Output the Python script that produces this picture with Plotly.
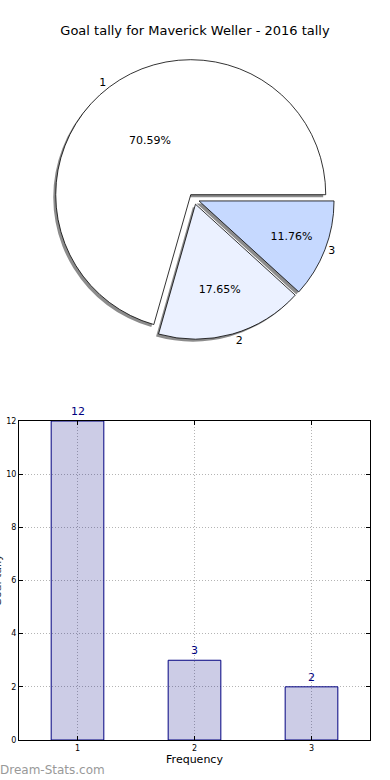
import plotly.graph_objects as go

# ---- data ----
categories = ["1", "2", "3"]
goal_counts = [12, 3, 2]
bar_x = [1, 2, 3]
pie_colors = ["#FFFFFF", "#EBF1FF", "#C6D9FF"]
explode = [0.04, 0.04, 0.04]
y_ticks = [0, 2, 4, 6, 8, 10, 12]
title_text = "Goal tally for Maverick Weller - 2016 tally"

W, H = 390, 780
FONT = "DejaVu Sans"

# pie geometry (pixels -> paper fractions)
cx, cy, r = 194, 199, 135
half = r * (1 + max(explode))
dom_x = [(cx - half) / W, (cx + half) / W]
dom_y = [(H - (cy + half)) / H, (H - (cy - half)) / H]
sdx, sdy = -2.5 / W, -2.5 / H

# first slice starts at 3 o'clock and runs counterclockwise (matplotlib style)
rot = 90 - 360 * goal_counts[0] / sum(goal_counts)

pie_common = dict(labels=categories, values=goal_counts, sort=False,
                  direction="counterclockwise", rotation=rot, pull=explode,
                  hoverinfo="skip", showlegend=False)

fig = go.Figure()

# shadow
fig.add_trace(go.Pie(
    domain=dict(x=[dom_x[0] + sdx, dom_x[1] + sdx], y=[dom_y[0] + sdy, dom_y[1] + sdy]),
    marker=dict(colors=["rgba(0,0,0,0.45)"] * 3, line=dict(width=0)),
    textinfo="none", **pie_common,
))
# main pie
fig.add_trace(go.Pie(
    domain=dict(x=dom_x, y=dom_y),
    marker=dict(colors=pie_colors, line=dict(color="black", width=0.8)),
    texttemplate="%{percent:.2%}", textposition="inside",
    insidetextorientation="horizontal",
    insidetextfont=dict(family=FONT, size=11, color="black"),
    **pie_common,
))
# outside labels
fig.add_trace(go.Pie(
    domain=dict(x=dom_x, y=dom_y),
    marker=dict(colors=["rgba(0,0,0,0)"] * 3, line=dict(width=0)),
    textinfo="label", textposition="outside",
    outsidetextfont=dict(family=FONT, size=11, color="black"),
    **pie_common,
))

# bar chart
fig.add_trace(go.Bar(
    x=bar_x, y=goal_counts, width=0.45,
    marker=dict(color="rgba(0,0,128,0.2)", line=dict(color="#000080", width=1)),
    hoverinfo="skip", showlegend=False, xaxis="x", yaxis="y",
))

for xv, yv in zip(bar_x, goal_counts):
    fig.add_annotation(x=xv, y=yv, xref="x", yref="y", text=str(yv), showarrow=False,
                       yanchor="bottom", yshift=1,
                       font=dict(family=FONT, size=11, color="#000080"))

axis_common = dict(
    showline=True, linecolor="black", linewidth=1, mirror="ticks",
    ticks="inside", ticklen=4, tickcolor="black", automargin=False,
    showgrid=True, gridcolor="#b4b4b4", griddash="1px,2px", gridwidth=1,
    zeroline=False, tickfont=dict(family=FONT, size=8, color="black"),
)

fig.update_layout(
    width=W, height=H, margin=dict(l=0, r=0, t=0, b=0, autoexpand=False),
    paper_bgcolor="white", plot_bgcolor="white",
    font=dict(family=FONT, color="black"),
    title=dict(text=title_text, x=0.5, xanchor="center", y=1 - 30 / H, yanchor="middle",
               yref="container", font=dict(family=FONT, size=13, color="black")),
    xaxis=dict(domain=[19 / W, 370 / W], range=[0.5, 3.5], tickvals=bar_x,
               ticktext=categories, anchor="y",
               title=dict(text="Frequency", standoff=3,
                          font=dict(family=FONT, size=11, color="black")),
               **axis_common),
    yaxis=dict(domain=[(H - 740) / H, (H - 421) / H], range=[0, 12], tickvals=y_ticks,
               anchor="x", **axis_common),
)

# clipped y-axis label (cut off at the left edge, as in the reference)
fig.add_annotation(x=0, y=(H - 580.5) / H, xref="paper", yref="paper", text="Goal tally",
                   textangle=-90, showarrow=False, xanchor="center", yanchor="middle",
                   xshift=-3, font=dict(family=FONT, size=11, color="#333333"))
# watermark
fig.add_annotation(x=0, y=(H - 770) / H, xref="paper", yref="paper", text="Dream-Stats.com",
                   showarrow=False, xanchor="left", yanchor="middle", xshift=-2,
                   font=dict(family=FONT, size=12, color="#999999"))

fig.write_html("out.html",
               config={"displayModeBar": False, "staticPlot": True},
               post_script="document.body.style.margin='0';"
                           "document.body.style.overflow='hidden';")
